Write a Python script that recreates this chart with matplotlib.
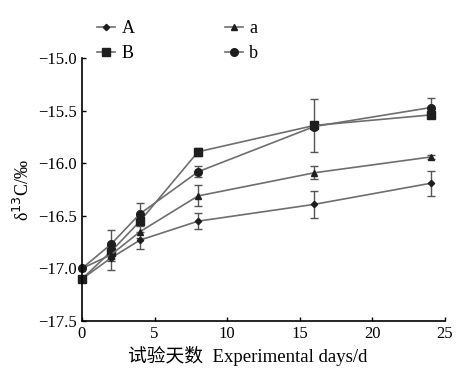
import numpy as np
import matplotlib.pyplot as plt
from matplotlib.lines import Line2D

plt.rcParams['font.family'] = ['Liberation Serif', 'Noto Sans CJK SC', 'DejaVu Sans']

days = [0, 2, 4, 8, 16, 24]

A = [-17.10, -16.90, -16.73, -16.55, -16.39, -16.19]
A_err = [0.0, 0.11, 0.08, 0.075, 0.13, 0.12]
B = [-17.10, -16.84, -16.55, -15.89, -15.64, -15.54]
B_err = [0.0, 0.04, 0.05, 0.04, 0.25, 0.0]
a = [-17.00, -16.87, -16.65, -16.31, -16.09, -15.94]
a_err = [0.0, 0.06, 0.06, 0.10, 0.06, 0.02]
b = [-17.00, -16.77, -16.48, -16.08, -15.65, -15.47]
b_err = [0.0, 0.14, 0.10, 0.05, 0.0, 0.09]

fig = plt.figure(figsize=(4.76, 3.85), dpi=100)
ax = fig.add_axes([0.172, 0.166, 0.763, 0.683])

line_c = '#6e6e6e'
mark_c = '#1e1e1e'
series = [
    ('A', A, A_err, 'D', 3.2),
    ('B', B, B_err, 's', 5.5),
    ('a', a, a_err, '^', 4.5),
    ('b', b, b_err, 'o', 5.5),
]
handles = []
for name, vals, err, mk, ms in series:
    cont = ax.errorbar(days, vals, yerr=err, color=line_c, lw=1.2, marker=mk, ms=ms,
                       mfc=mark_c, mec=mark_c, ecolor='#555555', elinewidth=1.0,
                       capsize=3, capthick=1.0)
    for art in cont.get_children():
        art.set_clip_on(False)
    handles.append(Line2D([], [], color=line_c, lw=1.2, marker=mk, ms=ms,
                          mfc=mark_c, mec=mark_c))

ax.set_xlim(0, 25)
ax.set_ylim(-17.5, -15.0)
ax.set_xticks([0, 5, 10, 15, 20, 25])
ax.set_yticks([-17.5, -17.0, -16.5, -16.0, -15.5, -15.0])
ax.set_yticklabels(['\u221217.5', '\u221217.0', '\u221216.5', '\u221216.0', '\u221215.5', '\u221215.0'])
ax.tick_params(direction='in', labelsize=12, length=3, width=1.0)
ax.spines['top'].set_visible(False)
ax.spines['right'].set_visible(False)
ax.spines['left'].set_linewidth(1.2)
ax.spines['bottom'].set_linewidth(1.2)

ax.set_xlabel('试验天数  Experimental days/d', fontsize=13.5)
ax.xaxis.set_label_coords(0.457, -0.095)
ax.set_ylabel('δ$^{13}$C/‰', fontsize=13, labelpad=4)

fig.legend(handles, ['A', 'B', 'a', 'b'], ncol=2, loc='upper left',
           bbox_to_anchor=(0.17, 0.99), frameon=False, fontsize=13,
           handlelength=1.0, handletextpad=0.35, columnspacing=5.0,
           labelspacing=0.45)

fig.savefig('out.png', dpi=100)
